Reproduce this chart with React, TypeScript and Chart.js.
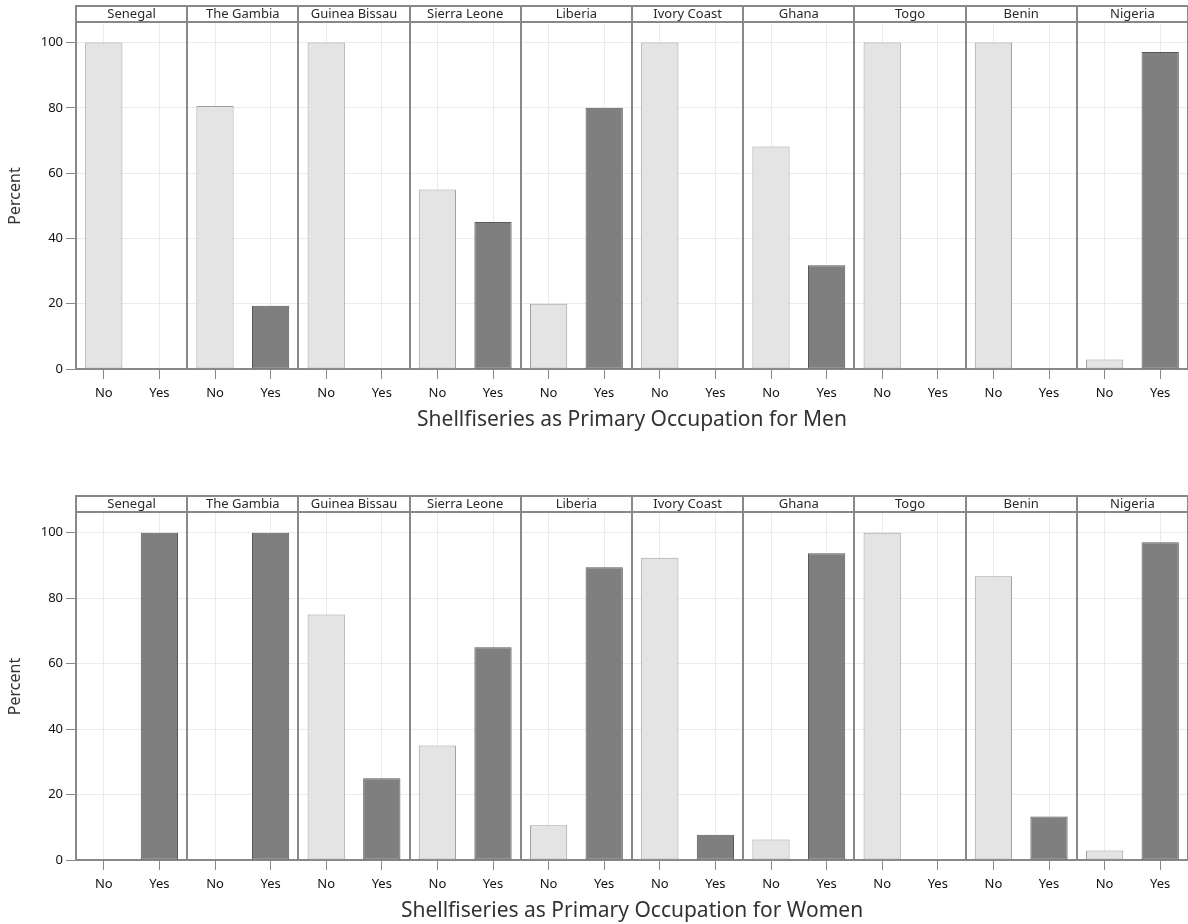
import React, { useEffect, useRef } from 'react';
import { Chart, registerables } from 'chart.js';
Chart.register(...registerables);

const countries = ['Senegal', 'The Gambia', 'Guinea Bissau', 'Sierra Leone', 'Liberia', 'Ivory Coast', 'Ghana', 'Togo', 'Benin', 'Nigeria'];
const answers = ['No', 'Yes'];
const menNo = [100, 80.6, 100, 55, 20, 100, 68.2, 100, 100, 2.9];
const menYes = [0, 19.4, 0, 45, 80, 0, 31.8, 0, 0, 97.1];
const womenNo = [0, 0, 75, 35, 10.6, 92.3, 6.3, 100, 86.7, 2.9];
const womenYes = [100, 100, 25, 65, 89.4, 7.7, 93.7, 0, 13.3, 97.1];
const yTicks = [0, 20, 40, 60, 80, 100];
const menTitle = 'Shellfiseries as Primary Occupation for Men';
const womenTitle = 'Shellfiseries as Primary Occupation for Women';

const FONT = '"Noto Sans", "Open Sans", sans-serif';
const FRAME = '#888888';
const GRID = '#ebebeb';

const facetPlugin = {
  id: 'facets',
  afterDatasetsDraw(chart: any) {
    const { ctx, chartArea: a } = chart;
    const n = countries.length;
    const w = (a.right - a.left) / n;
    const hTop = a.top - 17;
    const hBot = a.top - 1;
    ctx.save();
    ctx.strokeStyle = FRAME;
    ctx.lineWidth = 2;
    ctx.beginPath();
    ctx.moveTo(a.left, hTop);
    ctx.lineTo(a.right, hTop);
    ctx.moveTo(a.left, hBot);
    ctx.lineTo(a.right, hBot);
    for (let i = 0; i <= n; i++) {
      const x = Math.round(a.left + i * w);
      ctx.moveTo(x, hTop - 1);
      ctx.lineTo(x, a.bottom);
    }
    ctx.stroke();
    ctx.fillStyle = '#2a2a2a';
    ctx.font = '13px ' + FONT;
    ctx.textAlign = 'center';
    ctx.textBaseline = 'middle';
    for (let i = 0; i < n; i++) {
      ctx.fillText(countries[i], a.left + (i + 0.5) * w, (hTop + hBot) / 2 + 0.5);
    }
    ctx.restore();
  },
};

function Panel(props: { no: number[]; yes: number[]; title: string; padTop: number; xHeight: number; titlePad: number; height: number }) {
  const ref = useRef<HTMLCanvasElement>(null);
  useEffect(() => {
    const labels = countries.flatMap(() => answers);
    const noData = labels.map((_, i) => (i % 2 === 0 ? props.no[i / 2] : null));
    const yesData = labels.map((_, i) => (i % 2 === 1 ? props.yes[(i - 1) / 2] : null));
    const chart = new Chart(ref.current!, {
      type: 'bar',
      data: {
        labels,
        datasets: [
          { label: 'No', data: noData, backgroundColor: '#e4e4e4', borderColor: '#a0a0a0', borderWidth: 1, borderSkipped: false },
          { label: 'Yes', data: yesData, backgroundColor: '#7f7f7f', borderColor: '#595959', borderWidth: 1, borderSkipped: false },
        ],
      },
      options: {
        responsive: false,
        animation: false,
        devicePixelRatio: 1,
        layout: { padding: { top: props.padTop, left: 0, right: 0, bottom: 0 } },
        datasets: { bar: { grouped: false, barPercentage: 0.67, categoryPercentage: 1 } },
        plugins: { legend: { display: false }, tooltip: { enabled: false } },
        scales: {
          x: {
            grid: { offset: false, color: GRID, tickColor: FRAME, tickLength: 10, lineWidth: 1 },
            border: { display: true, color: FRAME, width: 2 },
            ticks: { color: '#111111', font: { family: FONT, size: 13 }, padding: 6, maxRotation: 0, autoSkip: false },
            title: { display: true, text: props.title, color: '#333333', font: { family: FONT, size: 21 }, padding: { top: 0, bottom: props.titlePad } },
            afterFit: (s: any) => { s.height = props.xHeight; },
          },
          y: {
            min: 0,
            max: 106,
            grid: { color: GRID, tickColor: FRAME, tickLength: 10 },
            border: { display: false },
            ticks: { stepSize: 20, color: '#111111', font: { family: FONT, size: 13 }, padding: 3 },
            afterBuildTicks: (s: any) => { s.ticks = yTicks.map((v) => ({ value: v })); },
            title: { display: true, text: 'Percent', color: '#333333', font: { family: FONT, size: 16 }, padding: { top: 6, bottom: 0 } },
            afterFit: (s: any) => { s.width = 76; },
          },
        },
      },
      plugins: [facetPlugin],
    });
    return () => chart.destroy();
  }, []);
  return <canvas ref={ref} width={1188} height={props.height} style={{ display: 'block' }} />;
}

export default function App() {
  return (
    <div style={{ position: 'absolute', left: 0, top: 0, width: 1188, height: 924, background: '#ffffff' }}>
      <Panel no={menNo} yes={menYes} title={menTitle} padTop={23} xHeight={93} titlePad={29} height={462} />
      <Panel no={womenNo} yes={womenYes} title={womenTitle} padTop={51} xHeight={64} titlePad={0} height={462} />
    </div>
  );
}
